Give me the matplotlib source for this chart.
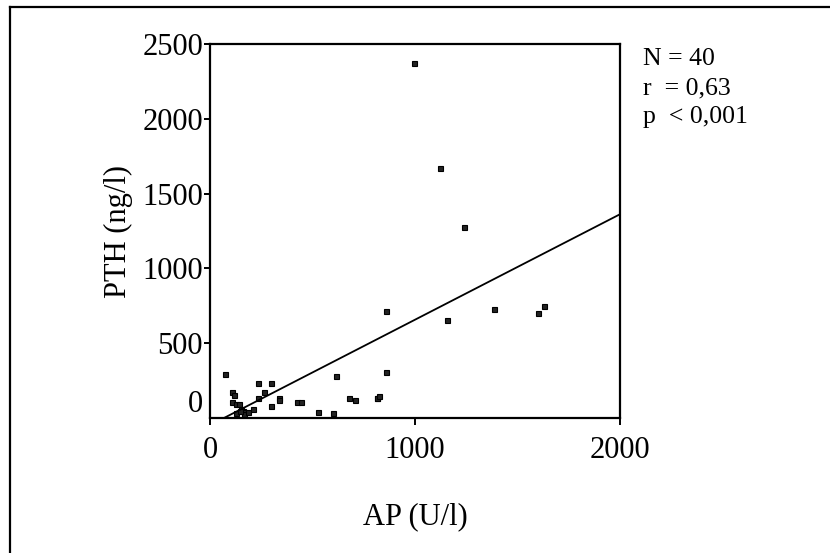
import numpy as np
import matplotlib
matplotlib.use("Agg")
from matplotlib import pyplot as plt
from matplotlib.lines import Line2D
from matplotlib.transforms import ScaledTranslation

# AP (U/l) and PTH (ng/l)
ap = [73, 106, 119, 106, 125, 141, 150, 125, 159, 168, 168, 184, 211, 233,
      265, 233, 298, 298, 337, 337, 423, 444, 528, 602, 613, 678, 709, 813,
      816, 826, 857, 857, 1155, 1385, 1599, 1629, 995, 1123, 1239, 145]
pth = [294, 176, 154, 105, 92, 92, 60, 36, 49, 38, 25, 38, 60, 236,
       176, 136, 236, 80, 136, 120, 105, 105, 38, 36, 281, 136, 120, 136,
       132, 149, 716, 310, 656, 729, 700, 747, 2370, 1673, 1280, 50]

# regression line as drawn
slope = 0.705
intercept = -48

stats = ["N = 40", "r  = 0,63", "p  < 0,001"]
xticks = [0, 1000, 2000]
yticks = [0, 500, 1000, 1500, 2000, 2500]

plt.rcParams['font.family'] = ['Liberation Serif', 'DejaVu Serif']

fig = plt.figure(figsize=(8.3, 5.53), dpi=100)
ax = fig.add_axes([210 / 830, 1 - 418 / 553, 410 / 830, 374 / 553])

ax.plot(ap, pth, linestyle='none', marker='s', markersize=3.6,
        markerfacecolor='#222222', markeredgecolor='black', markeredgewidth=0.8)

x0 = -intercept / slope
xs = np.array([x0, 2000])
ax.plot(xs, slope * xs + intercept, color='black', linewidth=1.3)

ax.set_xlim(0, 2000)
ax.set_ylim(0, 2500)
ax.set_xticks(xticks)
ax.set_xticklabels([str(t) for t in xticks], fontsize=22)
ax.set_yticks(yticks)
ax.set_yticklabels([str(t) for t in yticks], fontsize=22)
ax.tick_params(axis='x', length=5, width=1.4, pad=8)
ax.tick_params(axis='y', length=4, width=1.4, pad=1)
for s in ax.spines.values():
    s.set_linewidth(1.6)

# the 0 label on the y axis sits raised above its tick
lbl0 = ax.get_yticklabels()[0]
lbl0.set_transform(lbl0.get_transform() + ScaledTranslation(0, 0.17, fig.dpi_scale_trans))
ax.yaxis.get_major_ticks()[0].tick1line.set_visible(False)

ax.set_xlabel("AP (U/l)", fontsize=22, labelpad=27)
ax.set_ylabel("PTH (ng/l)", fontsize=22, labelpad=7)

for i, s in enumerate(stats):
    fig.text(643 / 830, 1 - (59 + 29 * i) / 553, s, fontsize=18.5, va='center', ha='left')

# outer frame (only top and left edges visible)
fig.add_artist(Line2D([10 / 830, 10 / 830], [0, 1 - 7 / 553], transform=fig.transFigure,
                      color='black', linewidth=1.6))
fig.add_artist(Line2D([10 / 830, 1], [1 - 7 / 553, 1 - 7 / 553], transform=fig.transFigure,
                      color='black', linewidth=1.6))

fig.savefig("out.png", dpi=100)
